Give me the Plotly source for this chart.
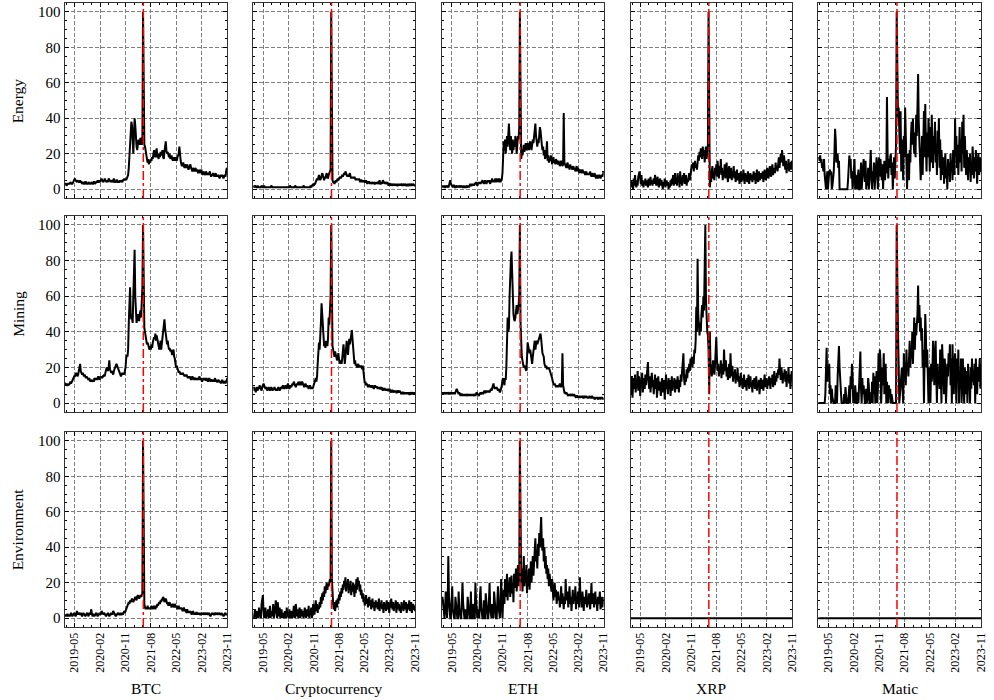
import pandas as pd
import plotly.graph_objects as go

# ---------------- data (weekly search interest, 0-100) ----------------
START = "2019-01-13"          # first weekly observation
EVENT_DATE = "2021-05-12"     # red dash-dot marker
COINS = ["BTC", "Cryptocurrency", "ETH", "XRP", "Matic"]
TOPICS = ["Energy", "Mining", "Environment"]
X_TICK0 = "2019-05-01"        # first labelled month (labels every 9 months)
Y_TICKS = [0, 20, 40, 60, 80, 100]

ENERGY_BTC = [
    3, 3, 3, 2, 3, 3, 3, 3, 3, 4, 3, 3,
    3, 4, 4, 5, 6, 5, 4, 4, 5, 4, 4, 4,
    5, 4, 4, 3, 4, 4, 3, 3, 4, 4, 3, 3,
    3, 4, 3, 3, 3, 4, 4, 3, 3, 4, 4, 3,
    4, 4, 4, 5, 4, 4, 5, 4, 5, 6, 5, 4,
    4, 5, 6, 5, 4, 4, 5, 4, 6, 5, 4, 4,
    5, 4, 4, 5, 6, 4, 4, 4, 5, 5, 4, 4,
    4, 5, 4, 5, 4, 4, 5, 5, 6, 5, 6, 5,
    6, 7, 8, 12, 20, 28, 34, 38, 36, 24, 20, 30,
    40, 36, 28, 24, 22, 26, 28, 27, 25, 29, 28, 25,
    27, 100, 30, 25, 24, 21, 18, 16, 15, 17, 14, 16,
    15, 17, 16, 18, 17, 20, 22, 19, 18, 21, 23, 18,
    19, 17, 20, 18, 21, 19, 20, 22, 18, 17, 21, 23,
    27, 22, 20, 21, 19, 18, 20, 17, 18, 19, 17, 16,
    18, 17, 16, 18, 17, 16, 18, 19, 20, 24, 18, 16,
    14, 13, 14, 15, 13, 12, 14, 13, 12, 14, 12, 11,
    12, 13, 14, 12, 11, 10, 12, 11, 10, 11, 12, 10,
    11, 10, 9, 10, 11, 9, 10, 11, 9, 8, 10, 9,
    9, 8, 10, 9, 8, 9, 8, 9, 10, 8, 7, 8,
    8, 9, 8, 7, 8, 9, 7, 8, 7, 8, 7, 6,
    7, 8, 7, 8, 7, 6, 7, 8, 7, 9, 12, 11,
]
ENERGY_CRYPTO = [
    2, 1, 1, 2, 1, 1, 1, 2, 1, 1, 1, 1,
    1, 2, 1, 1, 1, 2, 1, 1, 1, 1, 1, 1,
    1, 1, 1, 1, 2, 1, 1, 1, 1, 1, 1, 1,
    1, 1, 1, 1, 1, 1, 1, 1, 1, 1, 1, 1,
    1, 1, 1, 1, 1, 1, 1, 1, 1, 2, 1, 1,
    1, 1, 1, 1, 1, 2, 1, 1, 1, 1, 1, 1,
    1, 1, 1, 1, 1, 1, 2, 1, 1, 1, 1, 1,
    1, 1, 1, 1, 1, 2, 1, 2, 2, 3, 2, 3,
    3, 4, 5, 6, 5, 7, 8, 6, 5, 6, 7, 9,
    8, 6, 5, 7, 6, 8, 9, 7, 6, 8, 9, 10,
    11, 100, 8, 5, 4, 4, 3, 4, 5, 4, 5, 6,
    5, 6, 6, 7, 6, 7, 8, 7, 8, 9, 8, 10,
    9, 8, 7, 8, 7, 8, 9, 7, 6, 7, 6, 7,
    6, 7, 6, 5, 6, 5, 6, 5, 6, 5, 4, 5,
    5, 4, 5, 4, 5, 4, 4, 5, 4, 3, 4, 4,
    4, 3, 4, 3, 4, 4, 3, 4, 3, 3, 4, 3,
    4, 3, 3, 4, 5, 3, 3, 4, 3, 5, 4, 3,
    3, 4, 3, 3, 4, 3, 2, 3, 3, 2, 3, 3,
    2, 3, 3, 2, 3, 2, 3, 2, 2, 3, 2, 3,
    2, 3, 2, 2, 3, 2, 2, 3, 2, 2, 2, 3,
    2, 2, 3, 2, 2, 3, 2, 2, 3, 2, 2, 2,
]
ENERGY_ETH = [
    1, 2, 1, 2, 1, 1, 2, 1, 2, 1, 1, 2,
    3, 5, 3, 2, 2, 1, 2, 2, 1, 1, 2, 1,
    1, 2, 1, 2, 1, 1, 2, 1, 1, 1, 2, 1,
    1, 1, 2, 1, 1, 2, 1, 2, 3, 2, 2, 3,
    2, 3, 2, 3, 3, 4, 3, 2, 3, 4, 3, 4,
    3, 4, 4, 5, 4, 3, 4, 5, 4, 3, 4, 5,
    4, 5, 4, 3, 5, 4, 6, 4, 5, 4, 5, 6,
    4, 5, 6, 5, 4, 6, 5, 4, 5, 6, 9, 18,
    27, 22, 28, 20, 25, 30, 24, 35, 37, 28, 22, 30,
    25, 20, 28, 22, 26, 24, 30, 27, 20, 25, 30, 28,
    35, 100, 22, 17, 20, 19, 22, 25, 21, 24, 26, 22,
    23, 26, 24, 22, 25, 27, 24, 22, 25, 28, 26, 30,
    33, 37, 30, 27, 24, 28, 26, 30, 35, 33, 27, 25,
    22, 24, 19, 22, 17, 18, 20, 27, 16, 19, 15, 17,
    16, 19, 15, 14, 17, 18, 15, 16, 14, 17, 16, 15,
    14, 16, 15, 13, 14, 16, 15, 13, 14, 43, 15, 14,
    13, 12, 14, 15, 12, 13, 11, 14, 12, 13, 11, 12,
    13, 11, 12, 10, 11, 13, 10, 12, 11, 9, 10, 11,
    10, 9, 11, 10, 9, 10, 8, 9, 10, 8, 9, 8,
    9, 8, 10, 8, 7, 9, 8, 7, 8, 9, 7, 6,
    7, 8, 6, 7, 8, 7, 6, 7, 8, 7, 9, 10,
]
ENERGY_XRP = [
    3, 5, 1, 4, 0, 6, 2, 8, 3, 1, 5, 2,
    7, 9, 10, 6, 3, 8, 2, 5, 1, 4, 3, 6,
    2, 5, 3, 1, 6, 4, 2, 7, 3, 5, 2, 4,
    6, 3, 8, 4, 2, 5, 7, 3, 1, 4, 6, 2,
    5, 3, 0, 4, 2, 6, 1, 3, 5, 2, 4, 0,
    3, 1, 5, 2, 6, 3, 8, 2, 4, 9, 3, 6,
    2, 9, 4, 7, 1, 10, 3, 6, 2, 8, 4, 9,
    3, 5, 8, 2, 6, 4, 7, 9, 5, 8, 11, 14,
    12, 15, 10, 13, 16, 12, 14, 11, 17, 19, 16, 21,
    18, 23, 20, 17, 24, 19, 22, 15, 21, 24, 17, 20,
    25, 100, 8, 1, 6, 4, 10, 13, 6, 9, 5, 12,
    8, 14, 7, 16, 11, 6, 13, 9, 17, 8, 12, 5,
    10, 7, 14, 6, 11, 15, 8, 4, 10, 13, 6, 9,
    12, 5, 9, 7, 13, 6, 10, 4, 8, 11, 5, 7,
    9, 3, 7, 10, 4, 8, 5, 11, 6, 3, 9, 5,
    8, 4, 10, 6, 3, 7, 9, 5, 8, 4, 6, 10,
    5, 9, 3, 7, 11, 6, 4, 10, 8, 5, 9, 7,
    6, 10, 4, 8, 11, 7, 5, 9, 12, 8, 6, 10,
    13, 9, 7, 11, 14, 8, 10, 12, 9, 15, 11, 13,
    10, 14, 18, 12, 16, 20, 15, 22, 17, 13, 19, 14,
    11, 16, 9, 14, 12, 17, 10, 15, 13, 11, 16, 14,
]
ENERGY_MATIC = [
    17, 18, 16, 19, 15, 17, 12, 14, 10, 17, 8, 3,
    0, 5, 10, 0, 9, 10, 11, 8, 10, 0, 2, 6,
    10, 20, 34, 28, 15, 18, 20, 12, 16, 0, 0, 0,
    0, 0, 0, 0, 0, 0, 0, 0, 0, 0, 5, 12,
    19, 15, 17, 6, 10, 0, 4, 12, 17, 0, 8, 3,
    0, 6, 11, 0, 0, 5, 15, 0, 9, 14, 17, 10,
    4, 16, 0, 8, 2, 12, 0, 5, 19, 22, 8, 0,
    10, 4, 15, 0, 6, 12, 18, 9, 0, 14, 18, 7,
    17, 11, 5, 14, 0, 10, 16, 5, 12, 9, 52, 20,
    6, 17, 12, 18, 20, 8, 15, 0, 12, 18, 6, 14,
    25, 100, 52, 40, 46, 35, 20, 44, 10, 28, 15, 5,
    30, 18, 46, 25, 10, 0, 20, 12, 5, 22, 15, 30,
    38, 25, 40, 28, 20, 32, 18, 42, 30, 46, 65, 38,
    28, 12, 5, 15, 30, 8, 20, 44, 18, 48, 25, 10,
    32, 18, 40, 22, 10, 35, 15, 42, 26, 12, 30, 20,
    38, 15, 25, 8, 33, 20, 40, 12, 28, 5, 22, 16,
    8, 18, 3, 14, 20, 6, 12, 0, 17, 9, 15, 4,
    20, 10, 16, 5, 22, 14, 8, 40, 18, 30, 12, 25,
    8, 20, 35, 15, 28, 10, 38, 20, 42, 12, 30, 18,
    8, 22, 15, 5, 18, 10, 20, 4, 15, 8, 24, 12,
    6, 18, 10, 22, 14, 3, 16, 20, 8, 12, 18, 10,
]
MINING_BTC = [
    11, 11, 10, 11, 10, 10, 11, 10, 11, 12, 11, 12,
    12, 13, 14, 15, 15, 16, 17, 16, 15, 16, 18, 20,
    22, 18, 17, 16, 17, 16, 15, 16, 15, 14, 15, 14,
    14, 13, 14, 13, 12, 13, 12, 12, 13, 12, 14, 13,
    13, 14, 13, 14, 15, 14, 13, 15, 14, 15, 14, 15,
    15, 16, 15, 17, 18, 20, 19, 18, 20, 24, 19, 18,
    17, 18, 17, 16, 18, 19, 20, 21, 22, 21, 20, 19,
    18, 17, 16, 15, 16, 17, 16, 17, 16, 18, 20, 25,
    27, 26, 30, 45, 55, 65, 50, 47, 48, 45, 60, 75,
    86, 60, 50, 45, 47, 50, 48, 46, 50, 52, 48, 55,
    65, 100, 55, 42, 40, 38, 36, 33, 34, 32, 31, 30,
    32, 30, 33, 31, 34, 35, 37, 36, 39, 35, 38, 36,
    33, 31, 30, 32, 35, 30, 33, 36, 40, 44, 47, 42,
    40, 36, 33, 35, 32, 30, 31, 29, 30, 28, 27, 29,
    30, 26, 25, 22, 20, 21, 19, 18, 17, 18, 17, 16,
    17, 16, 17, 16, 16, 15, 16, 15, 16, 15, 14, 15,
    14, 15, 14, 13, 14, 15, 14, 13, 14, 14, 13, 14,
    13, 14, 13, 14, 15, 13, 14, 13, 12, 13, 14, 13,
    14, 13, 13, 14, 13, 12, 13, 14, 13, 12, 13, 13,
    12, 13, 12, 13, 14, 12, 13, 12, 12, 13, 12, 12,
    12, 11, 12, 13, 12, 11, 12, 12, 11, 12, 13, 14,
]
MINING_CRYPTO = [
    8, 9, 7, 8, 6, 9, 8, 7, 9, 8, 10, 9,
    8, 7, 9, 10, 11, 10, 9, 8, 9, 8, 7, 8,
    9, 8, 7, 8, 9, 8, 7, 8, 8, 9, 8, 7,
    8, 7, 8, 9, 8, 7, 8, 9, 8, 9, 10, 9,
    8, 9, 10, 9, 8, 10, 11, 9, 8, 9, 10, 9,
    10, 11, 10, 12, 11, 10, 9, 10, 11, 10, 12, 10,
    11, 12, 10, 11, 12, 11, 10, 9, 10, 11, 10, 9,
    10, 9, 8, 9, 10, 9, 8, 9, 8, 9, 10, 12,
    13, 14, 12, 15, 22, 31, 34, 30, 35, 45, 56, 50,
    40, 34, 32, 33, 31, 35, 33, 32, 36, 48, 44, 50,
    60, 100, 40, 32, 30, 28, 26, 29, 27, 25, 24, 25,
    28, 25, 23, 22, 24, 22, 25, 30, 33, 28, 22, 26,
    33, 35, 30, 27, 32, 36, 33, 35, 38, 41, 36, 30,
    26, 22, 24, 21, 22, 20, 21, 22, 20, 21, 20, 21,
    20, 19, 21, 16, 12, 11, 12, 10, 11, 10, 9, 10,
    10, 9, 10, 9, 9, 10, 9, 8, 9, 10, 9, 9,
    9, 8, 9, 8, 9, 8, 8, 9, 8, 7, 8, 8,
    8, 7, 8, 7, 8, 7, 7, 8, 7, 7, 6, 7,
    7, 6, 7, 7, 6, 7, 6, 6, 7, 6, 6, 7,
    6, 6, 5, 6, 6, 5, 6, 6, 5, 6, 5, 6,
    5, 6, 5, 5, 6, 5, 5, 6, 5, 5, 6, 5,
]
MINING_ETH = [
    6, 5, 6, 5, 6, 5, 5, 6, 5, 6, 5, 5,
    6, 5, 5, 6, 5, 6, 5, 6, 5, 6, 7, 8,
    7, 6, 5, 6, 5, 4, 5, 5, 4, 5, 4, 5,
    4, 5, 4, 5, 5, 4, 5, 4, 5, 4, 5, 4,
    5, 4, 5, 5, 4, 5, 6, 5, 5, 4, 5, 5,
    6, 5, 6, 6, 5, 6, 7, 6, 6, 7, 6, 7,
    6, 7, 6, 7, 8, 7, 9, 10, 11, 9, 8, 9,
    8, 9, 8, 7, 8, 7, 6, 7, 8, 10, 13, 14,
    12, 10, 14, 13, 20, 35, 48, 40, 42, 60, 75, 80,
    85, 70, 55, 50, 47, 46, 48, 52, 55, 50, 52, 55,
    60, 100, 45, 32, 26, 24, 22, 20, 21, 20, 19, 18,
    25, 34, 32, 30, 28, 30, 26, 24, 22, 26, 30, 33,
    35, 30, 32, 35, 33, 34, 36, 37, 38, 39, 36, 30,
    28, 27, 26, 22, 21, 20, 21, 19, 20, 19, 20, 19,
    18, 17, 15, 14, 12, 11, 10, 11, 10, 9, 10, 9,
    10, 9, 10, 11, 10, 9, 10, 28, 10, 7, 6, 6,
    5, 6, 5, 5, 4, 5, 4, 5, 4, 4, 5, 4,
    4, 5, 4, 4, 3, 4, 4, 3, 4, 4, 3, 4,
    4, 3, 4, 3, 3, 4, 3, 3, 4, 3, 3, 3,
    3, 4, 3, 3, 3, 4, 3, 3, 3, 2, 3, 3,
    3, 3, 2, 3, 3, 3, 2, 3, 3, 3, 2, 3,
]
MINING_XRP = [
    12, 5, 15, 3, 10, 14, 8, 16, 6, 12, 9, 18,
    7, 11, 15, 4, 13, 9, 17, 6, 12, 14, 8, 16,
    10, 14, 19, 23, 12, 8, 15, 6, 11, 17, 9, 13,
    5, 12, 16, 8, 14, 3, 10, 15, 7, 12, 9, 4,
    11, 14, 6, 9, 13, 2, 10, 16, 8, 12, 5, 14,
    9, 13, 4, 11, 15, 7, 12, 9, 14, 6, 10, 13,
    8, 15, 11, 6, 13, 9, 16, 12, 18, 22, 28, 14,
    10, 16, 12, 19, 14, 20, 17, 22, 18, 25, 21, 26,
    20, 26, 22, 30, 28, 35, 54, 40, 81, 50, 42, 38,
    45, 40, 50, 55, 48, 60, 52, 70, 100, 58, 45, 40,
    38, 30, 5, 40, 22, 18, 15, 20, 24, 19, 16, 21,
    28, 37, 25, 18, 22, 15, 20, 17, 24, 14, 19, 22,
    16, 30, 21, 18, 24, 15, 20, 13, 17, 22, 14, 28,
    18, 15, 21, 12, 17, 14, 19, 11, 16, 13, 20, 12,
    15, 9, 13, 17, 10, 14, 8, 12, 16, 9, 13, 11,
    7, 14, 10, 16, 8, 12, 15, 9, 11, 6, 13, 10,
    14, 8, 11, 15, 7, 12, 9, 13, 5, 11, 14, 8,
    10, 13, 7, 12, 16, 9, 11, 14, 8, 13, 10, 15,
    12, 8, 14, 11, 16, 9, 13, 18, 10, 15, 12, 17,
    14, 19, 16, 25, 18, 13, 20, 15, 11, 17, 14, 19,
    12, 18, 9, 15, 13, 20, 11, 16, 8, 14, 18, 15,
]
MINING_MATIC = [
    0, 0, 0, 0, 0, 0, 0, 0, 0, 0, 0, 5,
    20, 31, 12, 20, 18, 22, 5, 10, 0, 8, 3, 0,
    0, 0, 0, 10, 6, 0, 15, 24, 32, 20, 12, 8,
    0, 0, 0, 0, 5, 0, 9, 3, 0, 0, 0, 4,
    10, 0, 15, 8, 22, 15, 0, 4, 0, 10, 0, 0,
    0, 6, 0, 12, 20, 29, 8, 0, 14, 5, 10, 0,
    0, 0, 8, 0, 3, 14, 10, 0, 0, 6, 0, 12,
    0, 17, 5, 15, 0, 10, 18, 0, 8, 28, 12, 30,
    24, 0, 15, 20, 10, 28, 5, 18, 22, 0, 12, 6,
    0, 10, 3, 8, 0, 5, 0, 0, 0, 0, 0, 0,
    0, 100, 50, 40, 22, 0, 5, 10, 12, 20, 8, 0,
    28, 15, 20, 10, 30, 18, 22, 15, 25, 35, 20, 30,
    25, 40, 22, 35, 48, 30, 45, 38, 42, 50, 66, 45,
    55, 40, 48, 35, 42, 20, 30, 0, 25, 50, 38, 20,
    30, 15, 0, 20, 8, 0, 22, 12, 18, 35, 20, 10,
    28, 35, 15, 0, 22, 10, 18, 8, 30, 15, 0, 33,
    20, 12, 5, 25, 18, 0, 10, 22, 15, 28, 20, 33,
    10, 25, 0, 33, 18, 5, 20, 28, 15, 0, 25, 12,
    30, 0, 18, 8, 25, 0, 15, 25, 10, 0, 20, 12,
    5, 18, 0, 22, 10, 15, 0, 20, 8, 25, 12, 18,
    10, 22, 0, 25, 15, 5, 20, 12, 18, 25, 8, 22,
]
ENV_BTC = [
    2, 1, 2, 1, 2, 2, 1, 2, 1, 2, 3, 2,
    1, 2, 2, 3, 2, 1, 2, 4, 3, 2, 3, 2,
    2, 3, 2, 1, 2, 3, 2, 2, 1, 2, 2, 3,
    2, 1, 3, 2, 2, 5, 2, 1, 2, 2, 1, 2,
    2, 3, 2, 1, 2, 2, 3, 2, 2, 4, 3, 2,
    2, 3, 2, 2, 1, 2, 2, 3, 2, 1, 2, 2,
    3, 2, 2, 4, 3, 2, 2, 1, 2, 2, 3, 2,
    2, 2, 3, 2, 2, 3, 2, 3, 4, 3, 4, 5,
    6, 7, 8, 9, 8, 10, 9, 10, 11, 10, 9, 10,
    11, 12, 11, 10, 12, 13, 12, 11, 12, 13, 12, 14,
    14, 100, 12, 8, 6, 5, 6, 5, 7, 5, 6, 5,
    6, 5, 7, 6, 5, 6, 7, 6, 5, 7, 6, 8,
    7, 8, 9, 8, 10, 9, 11, 10, 12, 11, 9, 10,
    11, 10, 8, 9, 7, 8, 9, 7, 8, 6, 7, 8,
    7, 6, 8, 7, 6, 7, 5, 6, 7, 5, 6, 5,
    6, 5, 4, 5, 6, 4, 5, 4, 3, 5, 4, 3,
    4, 3, 4, 3, 2, 3, 4, 3, 2, 3, 2, 3,
    3, 2, 3, 2, 3, 2, 2, 3, 2, 3, 2, 2,
    3, 2, 2, 3, 2, 2, 3, 2, 2, 1, 2, 3,
    2, 3, 2, 2, 3, 2, 2, 3, 2, 2, 3, 2,
    2, 2, 3, 2, 2, 1, 2, 2, 3, 2, 2, 2,
]
ENV_CRYPTO = [
    2, 0, 3, 5, 1, 0, 4, 2, 0, 6, 1, 3,
    0, 8, 12, 13, 4, 0, 2, 6, 0, 3, 1, 5,
    0, 2, 7, 0, 4, 1, 3, 8, 0, 2, 5, 10,
    3, 0, 9, 4, 1, 6, 0, 2, 5, 0, 3, 1,
    0, 4, 2, 0, 6, 1, 3, 0, 5, 2, 0, 4,
    1, 0, 3, 7, 2, 0, 8, 4, 1, 5, 0, 3,
    6, 0, 2, 5, 1, 4, 0, 3, 6, 2, 0, 5,
    3, 1, 7, 0, 4, 2, 6, 0, 3, 8, 5, 2,
    6, 10, 4, 8, 3, 7, 5, 9, 6, 12, 8, 14,
    10, 15, 12, 18, 14, 17, 20, 16, 19, 18, 21, 22,
    20, 100, 22, 12, 8, 5, 9, 4, 7, 10, 6, 11,
    8, 13, 10, 15, 12, 17, 14, 19, 16, 21, 18, 23,
    15, 20, 17, 22, 14, 19, 16, 21, 13, 18, 15, 20,
    17, 12, 19, 14, 22, 16, 23, 18, 21, 15, 19, 13,
    16, 11, 14, 9, 12, 7, 10, 13, 8, 11, 6, 9,
    12, 7, 10, 5, 8, 11, 6, 9, 4, 8, 10, 6,
    9, 5, 7, 11, 4, 8, 6, 10, 5, 7, 3, 9,
    6, 8, 4, 10, 7, 5, 9, 3, 8, 6, 11, 7,
    5, 9, 4, 8, 6, 10, 3, 7, 9, 5, 8, 4,
    7, 3, 9, 6, 8, 4, 10, 5, 7, 9, 3, 6,
    8, 5, 10, 4, 7, 9, 3, 6, 8, 5, 7, 4,
]
ENV_ETH = [
    10, 12, 8, 0, 0, 5, 15, 10, 0, 8, 35, 12,
    0, 0, 0, 10, 18, 5, 0, 0, 0, 12, 8, 0,
    0, 0, 15, 6, 0, 0, 0, 10, 20, 8, 0, 0,
    0, 5, 0, 0, 12, 8, 0, 0, 0, 15, 0, 0,
    8, 0, 0, 0, 20, 10, 0, 0, 5, 0, 0, 12,
    18, 6, 0, 0, 0, 10, 0, 0, 14, 8, 0, 0,
    0, 12, 20, 5, 0, 0, 8, 0, 0, 15, 10, 0,
    0, 0, 10, 18, 6, 0, 0, 12, 22, 8, 0, 10,
    16, 8, 22, 12, 18, 25, 10, 20, 15, 23, 12, 19,
    24, 14, 20, 9, 25, 17, 22, 28, 15, 20, 30, 18,
    25, 100, 32, 20, 28, 15, 22, 35, 18, 26, 20, 30,
    14, 24, 18, 28, 16, 22, 32, 20, 27, 35, 24, 30,
    40, 45, 32, 38, 28, 42, 35, 48, 40, 55, 57, 42,
    38, 45, 32, 40, 28, 35, 25, 30, 22, 28, 18, 25,
    20, 18, 15, 22, 12, 10, 14, 20, 12, 16, 8, 12,
    15, 10, 12, 6, 10, 18, 8, 14, 10, 5, 12, 8,
    22, 10, 12, 15, 6, 10, 18, 8, 12, 4, 10, 16,
    8, 12, 10, 18, 5, 12, 8, 15, 10, 6, 23, 10,
    12, 6, 15, 10, 4, 12, 8, 10, 16, 6, 10, 8,
    14, 8, 5, 12, 20, 8, 10, 14, 6, 10, 15, 8,
    10, 4, 12, 8, 10, 15, 5, 8, 12, 6, 10, 12,
]
ENV_XRP = [
    0, 0, 0, 0, 0, 0, 0, 0, 0, 0, 0, 0,
    0, 0, 0, 0, 0, 0, 0, 0, 0, 0, 0, 0,
    0, 0, 0, 0, 0, 0, 0, 0, 0, 0, 0, 0,
    0, 0, 0, 0, 0, 0, 0, 0, 0, 0, 0, 0,
    0, 0, 0, 0, 0, 0, 0, 0, 0, 0, 0, 0,
    0, 0, 0, 0, 0, 0, 0, 0, 0, 0, 0, 0,
    0, 0, 0, 0, 0, 0, 0, 0, 0, 0, 0, 0,
    0, 0, 0, 0, 0, 0, 0, 0, 0, 0, 0, 0,
    0, 0, 0, 0, 0, 0, 0, 0, 0, 0, 0, 0,
    0, 0, 0, 0, 0, 0, 0, 0, 0, 0, 0, 0,
    0, 0, 0, 0, 0, 0, 0, 0, 0, 0, 0, 0,
    0, 0, 0, 0, 0, 0, 0, 0, 0, 0, 0, 0,
    0, 0, 0, 0, 0, 0, 0, 0, 0, 0, 0, 0,
    0, 0, 0, 0, 0, 0, 0, 0, 0, 0, 0, 0,
    0, 0, 0, 0, 0, 0, 0, 0, 0, 0, 0, 0,
    0, 0, 0, 0, 0, 0, 0, 0, 0, 0, 0, 0,
    0, 0, 0, 0, 0, 0, 0, 0, 0, 0, 0, 0,
    0, 0, 0, 0, 0, 0, 0, 0, 0, 0, 0, 0,
    0, 0, 0, 0, 0, 0, 0, 0, 0, 0, 0, 0,
    0, 0, 0, 0, 0, 0, 0, 0, 0, 0, 0, 0,
    0, 0, 0, 0, 0, 0, 0, 0, 0, 0, 0, 0,
]
ENV_MATIC = [
    0, 0, 0, 0, 0, 0, 0, 0, 0, 0, 0, 0,
    0, 0, 0, 0, 0, 0, 0, 0, 0, 0, 0, 0,
    0, 0, 0, 0, 0, 0, 0, 0, 0, 0, 0, 0,
    0, 0, 0, 0, 0, 0, 0, 0, 0, 0, 0, 0,
    0, 0, 0, 0, 0, 0, 0, 0, 0, 0, 0, 0,
    0, 0, 0, 0, 0, 0, 0, 0, 0, 0, 0, 0,
    0, 0, 0, 0, 0, 0, 0, 0, 0, 0, 0, 0,
    0, 0, 0, 0, 0, 0, 0, 0, 0, 0, 0, 0,
    0, 0, 0, 0, 0, 0, 0, 0, 0, 0, 0, 0,
    0, 0, 0, 0, 0, 0, 0, 0, 0, 0, 0, 0,
    0, 0, 0, 0, 0, 0, 0, 0, 0, 0, 0, 0,
    0, 0, 0, 0, 0, 0, 0, 0, 0, 0, 0, 0,
    0, 0, 0, 0, 0, 0, 0, 0, 0, 0, 0, 0,
    0, 0, 0, 0, 0, 0, 0, 0, 0, 0, 0, 0,
    0, 0, 0, 0, 0, 0, 0, 0, 0, 0, 0, 0,
    0, 0, 0, 0, 0, 0, 0, 0, 0, 0, 0, 0,
    0, 0, 0, 0, 0, 0, 0, 0, 0, 0, 0, 0,
    0, 0, 0, 0, 0, 0, 0, 0, 0, 0, 0, 0,
    0, 0, 0, 0, 0, 0, 0, 0, 0, 0, 0, 0,
    0, 0, 0, 0, 0, 0, 0, 0, 0, 0, 0, 0,
    0, 0, 0, 0, 0, 0, 0, 0, 0, 0, 0, 0,
]

SERIES = {
    "Energy": [ENERGY_BTC, ENERGY_CRYPTO, ENERGY_ETH, ENERGY_XRP, ENERGY_MATIC],
    "Mining": [MINING_BTC, MINING_CRYPTO, MINING_ETH, MINING_XRP, MINING_MATIC],
    "Environment": [ENV_BTC, ENV_CRYPTO, ENV_ETH, ENV_XRP, ENV_MATIC],
}

# ---------------- layout geometry (pixels in a 994x700 canvas) ----------------
W, H = 994, 700
COL_PX = [(65, 229), (255, 418), (445, 608), (635, 798), (824, 988)]
ROW_PX = [(3, 198), (216, 412), (432, 627)]
FONT = "Liberation Serif"

fig = go.Figure()
layout_axes = {}
shapes = []
annotations = []

for r, topic in enumerate(TOPICS):
    for c, coin in enumerate(COINS):
        k = r * 5 + c + 1
        sfx = "" if k == 1 else str(k)
        vals = SERIES[topic][c]
        xs = pd.date_range(START, periods=len(vals), freq="7D")
        fig.add_trace(go.Scatter(
            x=xs, y=vals, mode="lines",
            line=dict(color="black", width=2),
            xaxis="x" + sfx, yaxis="y" + sfx,
            showlegend=False, hoverinfo="skip"))
        x0p, x1p = COL_PX[c]
        t, b = ROW_PX[r]
        common = dict(
            ticks="inside", ticklen=4, tickwidth=1, tickcolor="black",
            showline=True, linecolor="#333333", linewidth=1, mirror="allticks",
            showgrid=True, gridcolor="#808080", griddash="4px,2px", gridwidth=0.9,
            zeroline=False,
        )
        layout_axes["xaxis" + sfx] = dict(
            domain=[x0p / W, x1p / W], anchor="y" + sfx, type="date",
            range=[xs[0], xs[-1]],
            tick0=X_TICK0, dtick="M9", tickformat="%Y-%m", tickangle=-90,
            minor=dict(dtick="M3", tick0="2019-02-01", ticks="inside", ticklen=2,
                       tickcolor="black", showgrid=False),
            showticklabels=(r == 2),
            tickfont=dict(family=FONT, size=12, color="black"),
            **common)
        layout_axes["yaxis" + sfx] = dict(
            domain=[1 - b / H, 1 - t / H], anchor="x" + sfx,
            range=[-5, 105], tickvals=Y_TICKS,
            minor=dict(dtick=5, tick0=0, ticks="inside", ticklen=2,
                       tickcolor="black", showgrid=False),
            showticklabels=(c == 0),
            tickfont=dict(family=FONT, size=15, color="black"),
            **common)
        shapes.append(dict(
            type="line", xref="x" + sfx, yref="y" + sfx + " domain",
            x0=EVENT_DATE, x1=EVENT_DATE, y0=0, y1=1,
            line=dict(color="red", width=1.5, dash="dashdot")))

for r, topic in enumerate(TOPICS):
    t, b = ROW_PX[r]
    annotations.append(dict(
        text=topic, xref="paper", yref="paper", x=18 / W, y=1 - (t + b) / 2 / H,
        xanchor="center", yanchor="middle", textangle=-90, showarrow=False,
        font=dict(family=FONT, size=15.5, color="black")))
for c, coin in enumerate(COINS):
    x0p, x1p = COL_PX[c]
    annotations.append(dict(
        text=coin, xref="paper", yref="paper", x=(x0p + x1p) / 2 / W, y=1 - 688 / H,
        xanchor="center", yanchor="middle", showarrow=False,
        font=dict(family=FONT, size=15.5, color="black")))

fig.update_layout(
    width=W, height=H, margin=dict(l=0, r=0, t=0, b=0),
    paper_bgcolor="white", plot_bgcolor="white",
    font=dict(family=FONT, color="black"),
    shapes=shapes, annotations=annotations, showlegend=False,
    **layout_axes)

fig.write_html("out.html")
